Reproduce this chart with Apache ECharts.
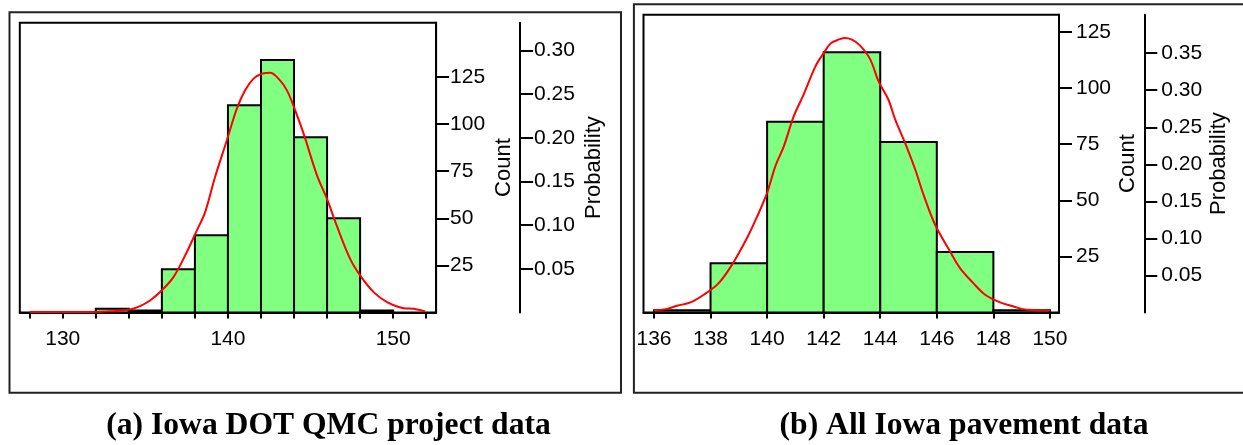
<!DOCTYPE html>
<html>
<head>
<meta charset="utf-8">
<script src="https://cdn.jsdelivr.net/npm/echarts@6/dist/echarts.min.js"></script>
<style>
  html, body { margin: 0; padding: 0; background: #fff; }
  #chart { width: 1243px; height: 445px; }
</style>
</head>
<body>
<div id="chart"></div>
<script>
// ---------- Panel (a): Iowa DOT QMC project data ----------
const binStartA = [128, 130, 132, 134, 136, 138, 140, 142, 144, 146, 148, 150];
const binWidthA = 2;
const countsA   = [0, 0, 2, 1, 23, 41, 110, 134, 93, 50, 1, 0];
const curveXA = [128.0, 130.0, 131.65, 132.86, 134.07, 134.68, 135.28, 135.99, 136.7, 137.41,
                 138.12, 138.62, 139.22, 139.93, 140.54, 141.04, 141.55, 142.05, 142.56, 143.06,
                 143.57, 144.07, 144.58, 145.39, 145.99, 146.58, 147.39, 148.0, 148.82, 149.63,
                 150.64, 151.24, 151.94];
const curveYA = [0.2, 0.3, 0.3, 0.6, 1.6, 3.4, 6.4, 11.7, 18.8, 30.3,
                 43.6, 53.3, 71.9, 91.3, 108.2, 117.9, 124.1, 126.7, 127.3, 124.1,
                 117.9, 107.3, 94.9, 72.8, 60.4, 46.2, 28.6, 19.7, 10.8, 5.5,
                 2.3, 2.0, 0.6];
const xTicksA  = [128, 130, 132, 134, 136, 138, 140, 142, 144, 146, 148, 150, 152];
const xLabelsA = [130, 140, 150];
const countTicksA = [25, 50, 75, 100, 125];
const probTicksA  = [0.05, 0.10, 0.15, 0.20, 0.25, 0.30];

// ---------- Panel (b): All Iowa pavement data ----------
const binStartB = [136, 138, 140, 142, 144, 146, 148];
const binWidthB = 2;
const countsB   = [1, 22, 85, 116, 76, 27, 1];
const curveXB = [136.0, 136.41, 136.82, 137.29, 137.76, 138.29, 138.76, 139.29, 139.65, 140.0,
                 140.29, 140.59, 140.94, 141.29, 141.71, 142.0, 142.24, 142.47, 142.73, 143.0,
                 143.29, 143.65, 143.94, 144.29, 144.53, 144.88, 145.24, 145.53, 145.94, 146.47,
                 146.82, 147.29, 147.71, 148.24, 148.71, 149.18, 150.0];
const curveYB = [0.9, 1.5, 3.0, 4.5, 7.9, 13.1, 21.3, 33.2, 42.8, 53.3,
                 65.1, 74.0, 87.4, 97.1, 109.7, 115.6, 119.8, 121.3, 122.3, 121.6,
                 118.9, 112.7, 103.0, 94.8, 85.9, 75.5, 63.6, 52.5, 39.1, 27.2,
                 19.8, 13.1, 7.9, 4.5, 2.7, 1.2, 0.9];
const xTicksB  = [136, 138, 140, 142, 144, 146, 148, 150];
const xLabelsB = [136, 138, 140, 142, 144, 146, 148, 150];
const countTicksB = [25, 50, 75, 100, 125];
const probTicksB  = [0.05, 0.10, 0.15, 0.20, 0.25, 0.30, 0.35];

const captionA = '(a) Iowa DOT QMC project data';
const captionB = '(b) All Iowa pavement data';

// ---------- shared styling ----------
const SANS = '"Liberation Sans", Arial, sans-serif';
const SERIF = '"Liberation Serif", "Times New Roman", serif';
const FS = 21;
const NAME_FS = 22;
const INK = '#000';

function binData(starts, width, counts) {
  return starts.map((s, i) => [s, s + width, counts[i]]);
}
function pairs(xs, ys) {
  return xs.map((x, i) => [x, ys[i]]);
}

// one histogram bar spanning [start, end] with height = count
function renderBin(params, api) {
  const c = api.value(2);
  if (!c) return null;
  const p0 = api.coord([api.value(0), c]);
  const p1 = api.coord([api.value(1), 0]);
  return {
    type: 'rect',
    shape: { x: p0[0], y: p0[1], width: p1[0] - p0[0], height: p1[1] - p0[1] },
    style: { fill: '#80ff80', stroke: INK, lineWidth: 2 }
  };
}

function makePanel(idx, cfg) {
  const grid = Object.assign({ show: true, borderColor: INK, borderWidth: 2, backgroundColor: '#fff' }, cfg.grid);
  const xAxis = {
    type: 'value', gridIndex: idx, min: cfg.xMin, max: cfg.xMax, position: 'bottom',
    splitLine: { show: false },
    axisLine: { show: true, onZero: false, lineStyle: { color: INK, width: 2 } },
    axisTick: { show: true, customValues: cfg.xTicks, length: 6, lineStyle: { color: INK, width: 2 } },
    axisLabel: { customValues: cfg.xLabels, color: INK, fontFamily: SANS, fontSize: FS, margin: 16 }
  };
  const countAxis = {
    type: 'value', gridIndex: idx, position: 'right', min: 0, max: cfg.countMax,
    splitLine: { show: false },
    axisLine: { show: true, lineStyle: { color: INK, width: 2 } },
    axisTick: { show: true, customValues: cfg.countTicks, length: 13, lineStyle: { color: INK, width: 2 } },
    axisLabel: { customValues: cfg.countTicks, color: INK, fontFamily: SANS, fontSize: FS, margin: cfg.labelMargin },
    name: 'Count', nameLocation: 'middle', nameRotate: 90, nameGap: cfg.countGap,
    nameTextStyle: { color: INK, fontFamily: SANS, fontSize: NAME_FS }
  };
  const probAxis = {
    type: 'value', gridIndex: idx, position: 'right', offset: cfg.probOffset, min: 0, max: cfg.probMax,
    splitLine: { show: false },
    axisLine: { show: true, lineStyle: { color: INK, width: 2 } },
    axisTick: { show: true, customValues: cfg.probTicks, length: 13, lineStyle: { color: INK, width: 2 } },
    axisLabel: { customValues: cfg.probTicks, color: INK, fontFamily: SANS, fontSize: FS, margin: cfg.labelMargin,
                 formatter: v => v.toFixed(2) },
    name: 'Probability', nameLocation: 'middle', nameRotate: 90, nameGap: cfg.probGap,
    nameTextStyle: { color: INK, fontFamily: SANS, fontSize: NAME_FS }
  };
  return { grid, xAxis, yAxes: [countAxis, probAxis] };
}

const panelA = makePanel(0, {
  grid: { left: 19.8, top: 22.7, width: 416.3, height: 289.8 },
  xMin: 127.4, xMax: 152.6, xTicks: xTicksA, xLabels: xLabelsA,
  countMax: 153.8, probMax: 0.3316, countTicks: countTicksA, probTicks: probTicksA,
  probOffset: 84, labelMargin: 14, countGap: 57, probGap: 63
});
const panelB = makePanel(1, {
  grid: { left: 643.5, top: 14.7, width: 415.5, height: 297.8 },
  xMin: 135.63, xMax: 150.32, xTicks: xTicksB, xLabels: xLabelsB,
  countMax: 132.7, probMax: 0.4019, countTicks: countTicksB, probTicks: probTicksB,
  probOffset: 85.3, labelMargin: 17, countGap: 58, probGap: 64
});

const yAxes = panelA.yAxes.concat(panelB.yAxes);

const option = {
  backgroundColor: '#fff',
  animation: false,
  grid: [panelA.grid, panelB.grid],
  xAxis: [panelA.xAxis, panelB.xAxis],
  yAxis: yAxes,
  series: [
    { type: 'custom', xAxisIndex: 0, yAxisIndex: 0, renderItem: renderBin,
      encode: { x: [0, 1], y: 2 }, data: binData(binStartA, binWidthA, countsA), z: 2 },
    { type: 'line', xAxisIndex: 0, yAxisIndex: 0, data: pairs(curveXA, curveYA),
      showSymbol: false, smooth: 0.35, lineStyle: { color: '#ff0000', width: 2 }, z: 3 },
    { type: 'custom', xAxisIndex: 1, yAxisIndex: 2, renderItem: renderBin,
      encode: { x: [0, 1], y: 2 }, data: binData(binStartB, binWidthB, countsB), z: 2 },
    { type: 'line', xAxisIndex: 1, yAxisIndex: 2, data: pairs(curveXB, curveYB),
      showSymbol: false, smooth: 0.35, lineStyle: { color: '#ff0000', width: 2 }, z: 3 }
  ],
  graphic: [
    { type: 'rect', shape: { x: 9.5, y: 12.3, width: 611.5, height: 380.4 },
      style: { fill: 'none', stroke: '#222', lineWidth: 2 }, z: -1, silent: true },
    { type: 'rect', shape: { x: 633.9, y: 4.3, width: 640, height: 388.4 },
      style: { fill: 'none', stroke: '#222', lineWidth: 2 }, z: -1, silent: true },
    { type: 'text', x: 328.5, y: 426, scaleX: 1.02, originX: 0,
      style: { text: captionA, font: 'bold 31px ' + SERIF, fill: INK, textAlign: 'center', textVerticalAlign: 'middle' } },
    { type: 'text', x: 964, y: 426, scaleX: 1.02, originX: 0,
      style: { text: captionB, font: 'bold 31px ' + SERIF, fill: INK, textAlign: 'center', textVerticalAlign: 'middle' } }
  ]
};

const chart = echarts.init(document.getElementById('chart'), null, { renderer: 'canvas', width: 1243, height: 445 });
chart.setOption(option);
</script>
</body>
</html>
